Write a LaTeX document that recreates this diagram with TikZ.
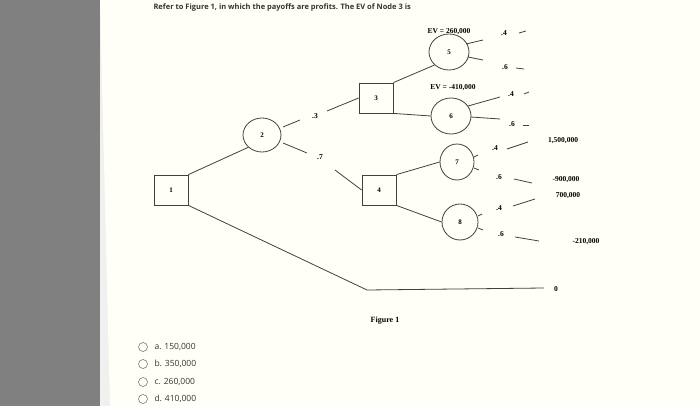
\documentclass[tikz,border=0pt]{standalone}
\usepackage{fontspec}
\setmainfont{Liberation Serif}
\newfontfamily\uisans{Open Sans}
\usetikzlibrary{shapes.geometric}
\begin{document}
\begin{tikzpicture}[x=1pt,y=-1pt,
  dec/.style={draw=black!75,line width=0.8pt,minimum width=34pt,minimum height=30pt,inner sep=0pt,font=\fontsize{7}{8}\selectfont\bfseries},
  chn/.style={draw=black!75,line width=0.8pt,ellipse,minimum width=40pt,minimum height=36pt,inner sep=0pt,font=\fontsize{7}{8}\selectfont\bfseries},
  ln/.style={draw=black!75,line width=0.8pt},
  lb/.style={font=\fontsize{7.5}{8}\selectfont\bfseries,inner sep=1pt},
  opt/.style={font=\uisans\fontsize{8.5}{10}\selectfont,anchor=west,text=black!80}]
\useasboundingbox (0,0) rectangle (700,406);
\fill[gray!12] (0,0) rectangle (700,406);
\fill[black!50] (0,0) rectangle (100,406);
\fill[white!97!yellow] (100,0) -- (700,0) -- (700,406) -- (110,406) -- cycle;
\node[font=\uisans\fontsize{7.5}{9}\selectfont\bfseries,anchor=west,text=black!80] (title) at (150,8) {Refer to Figure 1, in which the payoffs are profits. The EV of Node 3 is};
\node[dec] (n1) at (171,190) {1};
\node[chn,minimum width=38pt,minimum height=34pt] (n2) at (262,135) {2};
\node[dec] (n3) at (376,98) {3};
\node[dec] (n4) at (379,190) {4};
\node[chn] (n5) at (449,52) {5};
\node[chn] (n6) at (451,116) {6};
\node[chn,minimum width=34pt] (n7) at (457,162) {7};
\node[chn,minimum width=36pt] (n8) at (460,222) {8};
\node[lb] (ev5) at (449,32) {EV = 260,000};
\node[lb] (ev6) at (453,88) {EV = -410,000};
\node[lb] (p3) at (315,116) {.3};
\node[lb] (p7) at (320,157) {.7};
\coordinate (a1) at (283,127); \coordinate (a2) at (300,120);
\coordinate (a3) at (327,111);
\draw[ln] (a1) -- (a2);
\draw[ln] (a3) -- (n3.west);
\coordinate (b1) at (283,143); \coordinate (b2) at (307,153);
\coordinate (b3) at (335,170);
\draw[ln] (b1) -- (b2);
\draw[ln] (b3) -- (n4.west);
\draw[ln] (n1.north east) -- (n2.south west);
\draw[ln] (n3.north east) -- (n5.south west);
\draw[ln] (n3.south east) -- (n6.west);
\draw[ln] (n4.north east) -- (n7.west);
\draw[ln] (n4.south east) -- (n8.west);
\coordinate (c0) at (367,290);
\coordinate (c1) at (544,288);
\node[lb] (z0) at (556,289) {0};
\draw[ln] (n1.south east) -- (c0) -- (c1);
% node 5 branches
\node[lb] (q5a) at (504,33) {.4};
\node[lb] (q5b) at (505,67) {.6};
\draw[ln] (466,44) -- (483,40);
\draw[ln] (468,57) -- (483,60);
\draw[ln] (519,33) -- (526,31);
\draw[ln] (516,68) -- (524,69);
% node 6 branches
\node[lb] (q6a) at (511,94) {.4};
\node[lb] (q6b) at (512,124) {.6};
\draw[ln] (468,106) -- (500,97);
\draw[ln] (471,117) -- (500,119);
\draw[ln] (524,94) -- (529,92);
\draw[ln] (523,125) -- (529,125);
% node 7 branches
\node[lb] (q7a) at (495,148) {.4};
\node[lb] (q7b) at (499,177) {.6};
\node[lb] (v7a) at (563,141) {1,500,000};
\node[lb] (v7b) at (566,180) {-900,000};
\draw[ln] (474,157) -- (478,155);
\draw[ln] (474,168) -- (479,170);
\draw[ln] (507,149) -- (528,142);
\draw[ln] (514,179) -- (532,183);
% node 8 branches
\node[lb] (q8a) at (499,208) {.4};
\node[lb] (q8b) at (501,234) {.6};
\node[lb] (v8a) at (568,196) {700,000};
\node[lb] (v8b) at (586,242) {-210,000};
\draw[ln] (478,216) -- (482,214);
\draw[ln] (478,228) -- (483,230);
\draw[ln] (513,206) -- (535,199);
\draw[ln] (515,237) -- (539,241);
\node[lb,font=\fontsize{8}{9}\selectfont\bfseries] (fig) at (385,321) {Figure 1};
% options
\foreach \y/\t [count=\i] in {347/a. 150{,}000,364/b. 350{,}000,382/c. 260{,}000,399/d. 410{,}000}{
  \draw[black!60,line width=0.5pt] (143,\y) circle (4.5pt);
  \node[opt] (o\i) at (151,\y) {\t};
}
\end{tikzpicture}
\end{document}
